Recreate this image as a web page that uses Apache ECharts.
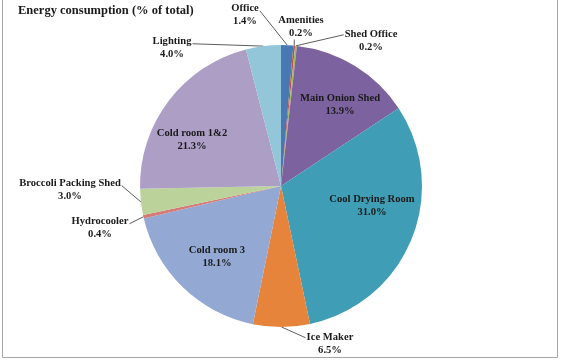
<!DOCTYPE html>
<html>
<head>
<meta charset="utf-8">
<script src="https://cdn.jsdelivr.net/npm/echarts@6/dist/echarts.min.js"></script>
<style>html,body{margin:0;padding:0;background:#fff}#c{width:565px;height:360px}</style>
</head>
<body>
<div id="c"></div>
<script>
// ---- data ----
const categories = ["Office", "Amenities", "Shed Office", "Main Onion Shed", "Cool Drying Room", "Ice Maker", "Cold room 3", "Hydrocooler", "Broccoli Packing Shed", "Cold room 1&2", "Lighting"];
const shares = [1.4, 0.2, 0.2, 13.9, 31.0, 6.5, 18.1, 0.4, 3.0, 21.3, 4.0];
const titleText = "Energy consumption (% of total)";

// ---- style / layout ----
const colors = ["#4a78b2", "#c0504d", "#9bbb59", "#7d62a0", "#3f9db5", "#e6843c", "#93a9d4", "#d47b78", "#bbd39a", "#ad9ec6", "#93c6d8"];
const insideIdx = [3, 4, 6, 9];
// label block centre and the side the leader line leaves from
const labelPlace = {
  0: [245, 15, 'right'],
  1: [301, 27, 'bottom'],
  2: [371, 41, 'left'],
  3: [340, 105],
  4: [372, 206],
  5: [330, 344, 'left'],
  6: [217, 257],
  7: [100, 228, 'right'],
  8: [70, 190, 'right'],
  9: [192, 140],
  10: [172, 48, 'right']
};

const data = categories.map((n, i) => {
  const inside = insideIdx.includes(i);
  return {
    name: n,
    value: shares[i],
    itemStyle: { color: colors[i] },
    label: { position: inside ? 'inside' : 'outside' },
    labelLine: { show: !inside }
  };
});

const chart = echarts.init(document.getElementById('c'), null, { renderer: 'canvas' });
chart.setOption({
  animation: false,
  backgroundColor: '#fff',
  title: {
    text: titleText,
    left: 18, top: 4, padding: 0,
    textStyle: { fontFamily: 'Liberation Serif', fontWeight: 'bold', fontSize: 12.5, color: '#1a1a1a' }
  },
  graphic: [{
    type: 'rect', silent: true,
    shape: { x: 2.5, y: -5, width: 555, height: 362.5 },
    style: { fill: 'none', stroke: '#a6a6a6', lineWidth: 1 }
  }],
  series: [{
    type: 'pie',
    center: [281, 186],
    radius: 141,
    startAngle: 90,
    clockwise: true,
    avoidLabelOverlap: false,
    itemStyle: { borderWidth: 0 },
    label: {
      formatter: p => p.name + '\n' + p.value.toFixed(1) + '%',
      fontFamily: 'Liberation Serif',
      fontWeight: 'bold',
      fontSize: 10.6,
      lineHeight: 12.5,
      color: '#1a1a1a',
      align: 'center'
    },
    labelLine: { lineStyle: { color: '#333', width: 0.8 }, length: 10, length2: 10 },
    emphasis: { disabled: true },
    labelLayout: function (params) {
      const i = params.dataIndex;
      const p = labelPlace[i];
      const w = params.labelRect.width, h = params.labelRect.height;
      const out = { x: p[0], y: p[1], align: 'center', verticalAlign: 'middle' };
      if (p[2] && params.labelLinePoints) {
        const a = params.labelLinePoints[0];
        let e;
        if (p[2] === 'right') e = [p[0] + w / 2 + 1, p[1] - h / 4 + 2];
        else if (p[2] === 'left') e = [p[0] - w / 2 - 1, p[1] - h / 4];
        else e = [a[0], p[1] + h / 2];
        out.labelLinePoints = [a, e];
      }
      return out;
    },
    data: data
  }]
});
</script>
</body>
</html>
